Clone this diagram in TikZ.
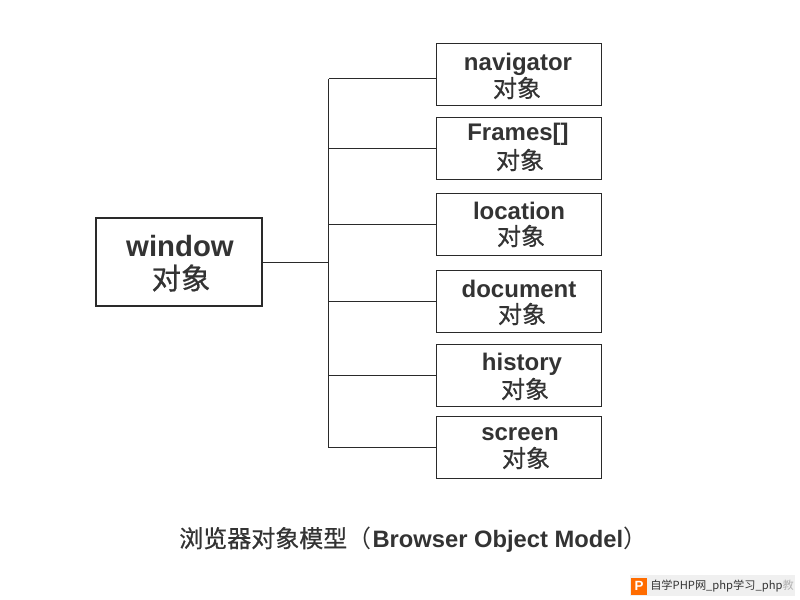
\documentclass[tikz,border=0pt]{standalone}
\usepackage{fontspec}
\setmainfont{Liberation Sans}
\newfontfamily\cjk{Noto Sans CJK SC}
\newfontfamily\cjkb[FakeBold=0.6]{Noto Sans CJK SC}
\definecolor{ink}{HTML}{333333}
\definecolor{edge}{HTML}{2A2A2A}
\tikzset{
  x=0.75pt,y=-0.75pt,
  objbox/.style={draw=edge,line width=1.25pt,minimum width=123.75pt,minimum height=46.5pt,inner sep=0pt},
  bigbox/.style={objbox,minimum width=124.5pt,minimum height=66pt,line width=1.4pt},
  wire/.style={draw=edge,line width=0.6pt},
  lbl/.style={text=ink,inner sep=0pt,font=\fontsize{18}{20}\selectfont\bfseries},
  cjklbl/.style={text=ink,inner sep=0pt,font=\fontsize{18}{20}\selectfont\cjkb}
}
\begin{document}
\begin{tikzpicture}
\useasboundingbox (0,0) rectangle (800,600);
\node[bigbox] (win) at (179,262) {};
\node[lbl,font=\fontsize{22}{24}\selectfont\bfseries] (wint) at (180,246) {window};
\node[cjklbl,font=\fontsize{22}{24}\selectfont\cjkb] (winc) at (181,278) {对象};
\coordinate (bus) at (328.5,262.5);
\foreach \n/\y/\wy/\t/\ty/\cy/\tx/\cx in {
 nav/74.5/78.5/navigator/64/88/518/517,
 fra/148.5/148.5/Frames[]/134/160/518/520,
 loc/224.5/224.5/location/210.5/236/519/521,
 doc/301.5/301.5/document/288.5/314/519/522,
 his/375.5/375.5/history/364.5/389/522/525,
 scr/447.5/447.5/screen/434.5/458/520/526}{
  \node[objbox] (\n) at (519,\y) {};
  \node[lbl] (\n t) at (\tx,\ty) {\t};
  \node[cjklbl] (\n c) at (\cx,\cy) {对象};
  \coordinate (\n w) at (436.5,\wy);
  \draw[wire] (\n w) -- (bus |- \n w);
}
\draw[wire] (win.east |- bus) -- (bus);
\draw[wire] (bus |- navw) -- (bus |- scrw);
\node[lbl,font=\fontsize{18}{20}\selectfont\cjkb,anchor=west] (cap) at (179,539.5) {浏览器对象模型{\cjk （}\kern1pt{\rmfamily\bfseries\fontsize{17.8}{20}\selectfont Browser Object Model}{\cjk ）}};
\fill[black!6] (630,575) rectangle (795,596);
\fill[orange!85!red] (631,578) rectangle (647,595);
\node[inner sep=0pt,font=\fontsize{10}{10}\selectfont\bfseries,text=white] (logo) at (639,586) {P};
\node[inner sep=0pt,anchor=west,text=ink,font=\fontsize{8.4}{10}\selectfont\cjk] (wm) at (650,586) {自学PHP网\_php学习\_php{\color{gray!60}教}};
\end{tikzpicture}
\end{document}
